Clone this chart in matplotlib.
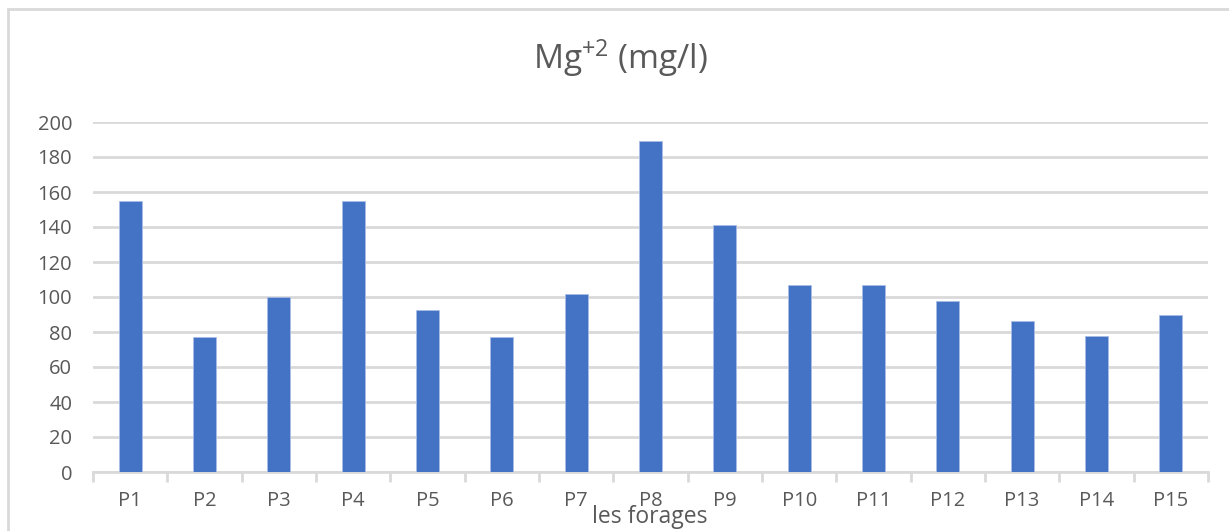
import matplotlib.pyplot as plt
from matplotlib.patches import Rectangle
from matplotlib.ticker import MultipleLocator, FixedLocator

# teneur en magnésium par forage
forages = ["P1", "P2", "P3", "P4", "P5", "P6", "P7", "P8",
           "P9", "P10", "P11", "P12", "P13", "P14", "P15"]
mg = [155, 77, 100, 155, 92.5, 77, 102, 189, 141, 107, 107, 97.5, 86.5, 78, 89.5]

plt.rcParams['font.family'] = ['Open Sans', 'DejaVu Sans']
plt.rcParams['mathtext.default'] = 'regular'

gris = '#595959'
grille = '#d9d9d9'

fig = plt.figure(figsize=(12.29, 5.31), dpi=100)
ax = fig.add_axes([93 / 1229, 1 - 472 / 531, (1208 - 93) / 1229, 350 / 531])

x = list(range(len(forages)))
ax.bar(x, mg, width=0.31, color='#4472c4', edgecolor='#a9bde6', linewidth=0.6, zorder=3)

ax.set_xlim(-0.5, len(forages) - 0.5)
ax.set_ylim(0, 200)
ax.yaxis.set_major_locator(MultipleLocator(20))
ax.grid(axis='y', color=grille, linewidth=2, zorder=0)

ax.set_xticks(x)
ax.set_xticklabels(forages)
ax.xaxis.set_minor_locator(FixedLocator([i - 0.5 for i in range(len(forages) + 1)]))
ax.tick_params(axis='x', which='major', length=0, pad=14, labelsize=14.5, labelcolor=gris)
ax.tick_params(axis='x', which='minor', length=7, width=2, color=grille)
ax.tick_params(axis='y', length=0, pad=15, labelsize=14.5, labelcolor=gris)

for s in ['top', 'right', 'left']:
    ax.spines[s].set_visible(False)
ax.spines['bottom'].set_color(grille)
ax.spines['bottom'].set_linewidth(2)

fig.text(620 / 1229, 1 - 58 / 531, "Mg$^{+2}$ (mg/l)", ha='center', va='center',
         fontsize=24, color=gris)
fig.text(650 / 1229, 1 - 517 / 531, "les forages", ha='center', va='center',
         fontsize=16.5, color=gris)

# cadre du graphique
fig.patches.append(Rectangle((8 / 1229, -0.1), 1.2, 1 - 9 / 531 + 0.1,
                             transform=fig.transFigure, fill=False,
                             edgecolor=grille, linewidth=2, clip_on=False))

fig.savefig("out.png", dpi=100)
